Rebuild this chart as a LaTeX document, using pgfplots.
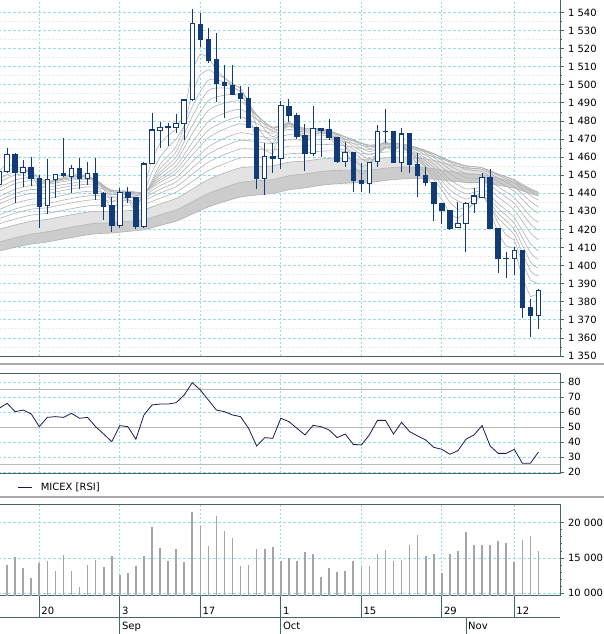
\documentclass[border=0pt]{standalone}
\usepackage{pgfplots}
\pgfplotsset{compat=1.18}
\usepackage{pgfplotstable}
\usepgfplotslibrary{fillbetween}
\usepackage{fontspec}
\setmainfont{DejaVu Sans}

\definecolor{candle}{RGB}{18,60,120}
\definecolor{axiscol}{RGB}{70,100,105}
\definecolor{gridcyan}{RGB}{150,220,232}
\definecolor{rsicol}{RGB}{25,25,85}
\definecolor{volcol}{RGB}{165,165,165}
\definecolor{ribbon}{RGB}{178,178,178}
\definecolor{sepcol}{RGB}{170,170,170}

% candles: up (white) and down (dark)
\pgfplotstableread{
k o h l c
-1 1444.9 1466.3 1443.0 1452.0
0 1452.0 1465.2 1451.0 1461.5
2 1451.6 1458.4 1443.7 1454.2
5 1433.0 1458.8 1428.4 1447.7
6 1447.7 1450.5 1437.2 1450.5
8 1449.4 1455.5 1440.3 1453.6
10 1448.3 1457.5 1444.6 1451.0
14 1422.3 1442.7 1421.0 1440.5
17 1421.5 1457.3 1421.0 1456.2
18 1456.2 1484.2 1456.0 1475.0
19 1475.0 1479.6 1465.2 1476.5
20 1476.3 1478.7 1466.1 1476.7
21 1476.5 1483.7 1473.5 1478.5
22 1478.7 1492.0 1469.5 1491.6
23 1491.6 1541.7 1491.0 1534.0
32 1448.1 1468.0 1439.0 1460.6
34 1459.1 1491.0 1453.2 1488.3
38 1462.1 1488.3 1460.6 1475.9
42 1457.5 1468.5 1454.7 1462.5
45 1445.3 1457.0 1440.3 1456.9
46 1457.5 1477.8 1454.7 1474.4
49 1457.1 1475.9 1451.9 1472.8
56 1421.2 1435.3 1421.0 1423.4
57 1423.4 1435.3 1407.7 1434.4
58 1434.4 1442.7 1429.3 1438.5
59 1437.7 1451.0 1437.2 1448.8
63 1404.0 1410.5 1394.8 1408.6
66 1372.3 1386.9 1364.7 1386.0
}\updata

\pgfplotstableread{
k o h l c
1 1461.5 1462.0 1434.4 1451.6
3 1454.3 1459.9 1444.2 1448.3
4 1448.3 1450.1 1420.6 1432.6
7 1450.8 1470.8 1449.0 1449.6
9 1453.8 1459.3 1442.2 1448.3
11 1451.0 1459.3 1436.3 1440.0
12 1440.0 1440.9 1425.2 1432.6
13 1433.0 1438.1 1418.8 1422.3
15 1440.5 1443.7 1434.4 1437.8
16 1437.8 1438.0 1420.4 1421.5
24 1533.6 1539.5 1521.1 1525.1
25 1525.1 1531.2 1511.9 1513.7
26 1514.1 1528.5 1490.7 1500.8
27 1501.2 1511.0 1481.4 1499.7
28 1499.7 1511.0 1494.4 1494.9
29 1495.3 1499.3 1480.9 1492.3
30 1492.5 1499.0 1476.0 1476.5
31 1476.5 1476.8 1442.2 1448.1
33 1460.6 1468.0 1451.4 1459.3
35 1487.9 1492.3 1479.4 1483.1
36 1483.1 1484.6 1470.2 1471.3
37 1471.7 1478.3 1452.5 1462.1
39 1476.1 1476.3 1460.2 1475.0
40 1475.0 1480.9 1469.5 1470.9
41 1470.9 1471.2 1457.0 1457.5
43 1462.5 1463.0 1440.9 1447.0
44 1447.2 1456.6 1440.9 1445.3
47 1474.4 1486.4 1468.0 1474.0
48 1474.4 1474.5 1456.5 1457.1
50 1472.8 1473.5 1451.4 1456.0
51 1456.0 1462.4 1437.7 1449.7
52 1449.7 1454.3 1444.2 1446.0
53 1446.0 1446.2 1424.8 1434.4
54 1434.4 1434.6 1422.8 1430.4
55 1430.4 1430.6 1419.7 1420.6
60 1448.8 1453.2 1420.0 1420.6
61 1420.6 1420.8 1395.7 1404.0
62 1404.2 1407.7 1392.9 1403.8
64 1408.6 1408.8 1370.8 1376.9
65 1376.9 1381.3 1360.3 1372.3
}\downdata

% fast ribbon lines
\pgfplotstableread{
k f1 f2
-1 1452.0 1450.0
0 1456.8 1453.8
1 1454.2 1453.1
2 1454.2 1453.5
3 1451.3 1451.8
4 1442.0 1445.4
5 1444.9 1446.2
6 1447.7 1447.6
7 1448.7 1448.3
8 1451.2 1450.1
9 1449.8 1449.5
10 1450.4 1450.0
11 1445.2 1446.7
12 1438.9 1442.0
13 1430.6 1435.4
14 1435.6 1437.1
15 1436.7 1437.3
16 1429.1 1432.0
17 1442.7 1440.1
18 1458.9 1451.7
19 1467.7 1460.0
20 1472.1 1465.5
21 1475.3 1469.8
22 1483.5 1477.1
23 1508.8 1496.1
24 1517.0 1505.8
25 1515.4 1508.4
26 1508.1 1505.9
27 1503.9 1503.8
28 1499.4 1500.8
29 1495.9 1498.0
30 1486.2 1490.8
31 1467.2 1476.6
32 1463.9 1471.3
33 1461.6 1467.3
34 1475.0 1474.3
35 1479.1 1477.2
36 1475.2 1475.2
37 1468.7 1470.8
38 1472.3 1472.5
39 1473.7 1473.3
40 1472.3 1472.5
41 1464.9 1467.5
42 1463.7 1465.8
43 1455.4 1459.5
44 1450.4 1454.8
45 1453.7 1455.5
46 1464.1 1461.8
47 1469.1 1465.9
48 1463.1 1463.0
49 1468.0 1466.3
50 1462.0 1462.9
51 1455.9 1458.5
52 1451.0 1454.3
53 1442.7 1447.7
54 1436.6 1441.9
55 1428.6 1434.8
56 1426.0 1431.0
57 1430.2 1432.1
58 1434.4 1434.2
59 1441.6 1439.1
60 1431.1 1432.9
61 1417.6 1423.3
62 1410.7 1416.8
63 1409.7 1414.1
64 1393.3 1401.7
65 1382.8 1391.9
66 1384.4 1389.9
}\fastdata

% slower ribbon lines
\pgfplotstableread{
k s1 s2 s3 s4 s5 s6 s7 s8 s9 s10 s11 s12 s13 s14
-1 1448.0 1446.0 1443.0 1441.0 1438.0 1436.0 1434.0 1431.0 1428.0 1426.0 1423.0 1420.0 1413.0 1408.0
1 1452.0 1450.1 1447.4 1445.3 1442.2 1439.9 1437.7 1434.5 1431.3 1429.0 1425.8 1422.5 1415.4 1410.1
3 1451.6 1450.6 1448.7 1447.0 1444.2 1442.1 1439.9 1436.7 1433.6 1431.2 1427.9 1424.5 1417.4 1411.9
5 1446.3 1446.5 1445.9 1445.1 1443.3 1441.7 1439.9 1437.2 1434.4 1432.0 1428.9 1425.6 1418.7 1413.1
7 1448.0 1447.9 1447.3 1446.5 1444.8 1443.3 1441.6 1438.9 1436.2 1433.8 1430.6 1427.3 1420.4 1414.7
9 1449.4 1449.1 1448.5 1447.7 1446.2 1444.7 1443.1 1440.6 1437.9 1435.5 1432.3 1428.9 1422.1 1416.3
11 1447.6 1447.7 1447.5 1447.1 1446.0 1444.9 1443.5 1441.2 1438.8 1436.5 1433.4 1430.0 1423.4 1417.6
13 1438.2 1439.8 1440.9 1441.6 1441.8 1441.6 1440.9 1439.4 1437.5 1435.6 1432.9 1429.8 1423.6 1418.0
15 1438.6 1439.5 1440.3 1440.9 1441.2 1441.1 1440.6 1439.3 1437.7 1435.9 1433.4 1430.4 1424.5 1418.9
17 1438.7 1439.3 1439.8 1440.3 1440.7 1440.7 1440.3 1439.3 1437.8 1436.2 1433.9 1431.0 1425.3 1419.8
19 1456.0 1453.6 1451.6 1450.2 1448.6 1447.4 1446.1 1444.2 1442.2 1440.1 1437.3 1434.1 1428.1 1422.2
21 1466.0 1463.0 1460.1 1457.8 1455.1 1453.1 1451.2 1448.7 1446.3 1443.7 1440.6 1437.1 1430.8 1424.6
23 1487.9 1482.5 1477.4 1473.0 1468.1 1464.4 1461.2 1457.4 1454.0 1450.5 1446.5 1442.3 1435.3 1428.5
25 1502.6 1496.9 1491.2 1485.9 1479.7 1474.9 1470.7 1465.7 1461.6 1457.2 1452.5 1447.6 1439.9 1432.4
27 1501.5 1498.2 1494.2 1489.9 1484.3 1479.7 1475.5 1470.4 1466.1 1461.4 1456.4 1451.2 1443.2 1435.4
29 1497.8 1496.4 1494.0 1490.9 1486.4 1482.3 1478.5 1473.5 1469.3 1464.5 1459.5 1454.1 1446.0 1437.9
31 1481.2 1483.1 1483.6 1483.0 1481.0 1478.5 1475.8 1472.0 1468.5 1464.3 1459.7 1454.7 1446.9 1439.0
33 1471.3 1474.0 1475.9 1476.6 1476.2 1475.0 1473.2 1470.4 1467.5 1463.9 1459.7 1455.1 1447.6 1439.9
35 1478.0 1478.6 1479.1 1479.1 1478.4 1477.0 1475.3 1472.4 1469.6 1466.0 1461.8 1457.2 1449.7 1441.9
37 1472.7 1473.9 1475.0 1475.7 1475.8 1475.0 1473.9 1471.7 1469.3 1466.1 1462.2 1457.8 1450.7 1443.0
39 1474.0 1474.5 1475.2 1475.6 1475.7 1475.1 1474.1 1472.2 1470.0 1467.0 1463.3 1459.0 1452.0 1444.4
41 1469.4 1470.5 1471.6 1472.4 1473.1 1473.0 1472.5 1471.1 1469.3 1466.7 1463.4 1459.4 1452.7 1445.3
43 1462.6 1464.3 1466.1 1467.5 1469.0 1469.5 1469.6 1468.9 1467.6 1465.6 1462.7 1459.1 1452.8 1445.7
45 1457.2 1459.1 1461.2 1463.0 1464.9 1466.0 1466.6 1466.5 1465.7 1464.2 1461.7 1458.5 1452.7 1445.9
47 1465.1 1465.0 1465.5 1466.1 1467.0 1467.6 1467.8 1467.5 1466.7 1465.2 1462.8 1459.6 1453.9 1447.1
49 1465.0 1465.0 1465.3 1465.8 1466.6 1467.1 1467.3 1467.2 1466.5 1465.2 1462.9 1460.0 1454.5 1447.9
51 1459.4 1460.2 1461.2 1462.2 1463.5 1464.4 1465.0 1465.2 1464.9 1464.0 1462.1 1459.5 1454.4 1448.1
53 1450.4 1452.4 1454.3 1456.1 1458.2 1459.8 1460.9 1461.9 1462.0 1461.7 1460.3 1458.2 1453.6 1447.8
55 1438.8 1441.9 1444.9 1447.6 1450.8 1453.3 1455.2 1457.0 1457.8 1458.1 1457.4 1455.9 1452.1 1446.8
57 1434.1 1436.8 1439.7 1442.4 1445.9 1448.7 1450.9 1453.2 1454.4 1455.3 1455.1 1454.0 1450.8 1446.0
59 1438.6 1439.5 1441.0 1442.8 1445.4 1447.7 1449.7 1451.9 1453.2 1454.1 1454.1 1453.3 1450.4 1445.9
61 1426.3 1428.8 1431.6 1434.3 1437.9 1441.0 1443.6 1446.5 1448.4 1450.0 1450.7 1450.5 1448.3 1444.4
63 1416.9 1420.0 1423.3 1426.5 1430.8 1434.4 1437.5 1441.1 1443.5 1445.8 1447.0 1447.5 1446.0 1442.8
65 1397.2 1402.2 1407.3 1412.1 1418.1 1423.0 1427.3 1432.1 1435.5 1438.8 1441.1 1442.5 1442.1 1439.8
66 1394.2 1398.6 1403.5 1408.2 1414.3 1419.3 1423.8 1428.9 1432.5 1436.2 1438.8 1440.5 1440.5 1438.6
}\slowdata

\pgfplotstableread{
k v
-1 62.4
0 65.8
1 60.2
2 61.3
3 58.7
4 50.2
5 56.4
6 56.9
7 56.4
8 59.1
9 55.8
10 56.4
11 50.2
12 45.3
13 40.2
14 50.9
15 50.2
16 41.8
17 58.0
18 64.7
19 65.3
20 65.3
21 66.2
22 71.3
23 79.6
24 74.7
25 68.0
26 61.3
27 60.2
28 58.0
29 56.9
30 49.1
31 37.3
32 42.9
33 42.4
34 55.8
35 53.6
36 49.1
37 44.7
38 51.1
39 50.2
40 48.0
41 42.9
42 45.3
43 38.4
44 38.0
45 44.7
46 54.4
47 54.4
48 45.3
49 53.1
50 46.9
51 44.0
52 41.3
53 36.4
54 35.1
55 31.8
56 34.2
57 41.8
58 44.7
59 50.9
60 37.3
61 32.4
62 32.4
63 35.1
64 25.8
65 25.8
66 33.3
}\rsidata

\pgfplotstableread{
k v
0 14010
1 15100
2 13540
3 12210
4 14340
5 14570
6 13160
7 15380
8 13160
9 10940
10 13960
11 14720
12 13680
13 15280
14 12630
15 12830
16 13870
17 15280
18 19350
19 16370
20 14570
21 16230
22 14470
23 21470
24 19530
25 16700
26 20990
27 18860
28 17870
29 13870
30 14010
31 16230
32 16230
33 16510
34 14570
35 14960
36 14570
37 15890
38 15570
39 12270
40 13540
41 13060
42 13200
43 14570
44 13770
45 13870
46 15570
47 16130
48 14570
49 14720
50 16840
51 18260
52 15280
53 15570
54 12830
55 15570
56 15990
57 18720
58 16800
59 16840
60 16840
61 17450
62 17170
63 14470
64 17550
65 18110
66 15990
}\voldata

\pgfplotsset{
  /pgf/number format/1000 sep={\ },
  /pgf/number format/assume math mode=true,
  panel/.style={
    scale only axis, width=562pt, xmin=-1.13, xmax=68.68,
    axis line style={draw=axiscol, line width=0.9pt},
    xtick={4,14,24,34,44,54,63}, xticklabels={},
    major x tick style={draw=none},
    xmajorgrids, major x grid style={gridcyan, line width=0.8pt, dash pattern=on 2pt off 2pt},
    ymajorgrids, major y grid style={gridcyan, line width=0.8pt, dash pattern=on 3pt off 2pt},
    ytick pos=right, yticklabel pos=right, tick align=outside,
    major tick length=3.5pt, minor tick length=2pt,
    every tick/.style={axiscol, line width=0.8pt},
    tick label style={font=\fontsize{10}{12}\selectfont, text=black},
    yticklabel style={anchor=west, xshift=1pt},
    anchor=south west,
  },
  candlebar/.style={only marks, mark=*, mark size=0pt, mark options={draw=none, fill=none},
    error bars/.cd, y dir=both, y explicit, error mark=none},
}
\tikzset{
  datelab/.style={anchor=base west, inner sep=2pt, font=\fontsize{10}{12}\selectfont},
  dateline/.style={axiscol, line width=0.8pt},
}

\begin{document}
\begin{tikzpicture}

% ---------------- main price panel ----------------
\begin{axis}[panel, set layers, at={(-2pt,278pt)}, height=358pt,
  ymin=1350, ymax=1548.0, ytick={1350,1360,...,1540}, minor y tick num=1,
  yminorgrids, minor y grid style={gray!22, dotted, line width=0.8pt}]
  \addplot[draw=none, smooth, tension=0.4, name path=A] table[x=k, y=s14] \slowdata;
  \addplot[draw=none, smooth, tension=0.4, name path=B] table[x=k, y=s13] \slowdata;
  \addplot[draw=none, smooth, tension=0.4, name path=C] table[x=k, y=s12] \slowdata;
  \addplot[fill=gray!40, draw=none] fill between[of=A and B];
  \addplot[fill=gray!22, draw=none] fill between[of=B and C];
  \pgfplotsinvokeforeach{s1,s2,s3,s4,s5,s6,s7,s8,s9,s10,s11,s12,s13,s14}{
    \addplot[ribbon, line width=0.6pt, smooth, tension=0.4] table[x=k, y=#1] \slowdata;
  }
  \addplot[ribbon, line width=0.6pt] table[x=k, y=f1] \fastdata;
  \addplot[ribbon, line width=0.6pt] table[x=k, y=f2] \fastdata;
  % wicks
  \addplot[candlebar, error bar style={candle, line width=1pt}]
    table[x=k, y expr={(\thisrow{h}+\thisrow{l})/2}, y error expr={(\thisrow{h}-\thisrow{l})/2}] \updata;
  \addplot[candlebar, error bar style={candle, line width=1pt}]
    table[x=k, y expr={(\thisrow{h}+\thisrow{l})/2}, y error expr={(\thisrow{h}-\thisrow{l})/2}] \downdata;
  % bodies
  \addplot[candlebar, error bar style={candle, line width=5.5pt}]
    table[x=k, y expr={(\thisrow{o}+\thisrow{c})/2}, y error expr={abs(\thisrow{c}-\thisrow{o})/2+0.28}] \downdata;
  \addplot[candlebar, error bar style={candle, line width=5.5pt}]
    table[x=k, y expr={(\thisrow{o}+\thisrow{c})/2}, y error expr={abs(\thisrow{c}-\thisrow{o})/2+0.28}] \updata;
  \addplot[candlebar, error bar style={white, line width=3.5pt}]
    table[x=k, y expr={(\thisrow{o}+\thisrow{c})/2}, y error expr={max(abs(\thisrow{c}-\thisrow{o})/2-0.3,0)}] \updata;
\end{axis}

% separators
\draw[sepcol, line width=1.6pt] (0,270pt) -- (604pt,270pt);
\draw[sepcol, line width=1.6pt] (0,137pt) -- (604pt,137pt);

% ---------------- RSI panel ----------------
\begin{axis}[panel, at={(-2pt,160.7pt)}, height=100pt,
  ymin=19.1, ymax=85.8, ytick={20,30,...,80},
  legend style={at={(axis description cs:0.0356,-0.137)}, anchor=west, draw=none, fill=none,
    inner sep=0pt, outer sep=0pt, font=\fontsize{10}{12}\selectfont,
    /tikz/every odd column/.append style={column sep=6pt}},
  legend cell align=left,
  legend image code/.code={\draw[#1] (0pt,0pt) -- (14pt,0pt);}]
  \addplot[gray!55, line width=0.9pt, forget plot] coordinates {(-2,75) (70,75)};
  \addplot[gray!55, line width=0.9pt, forget plot] coordinates {(-2,50) (70,50)};
  \addplot[gray!55, line width=0.9pt, forget plot] coordinates {(-2,25) (70,25)};
  \addplot[rsicol, line width=0.8pt] table[x=k, y=v] \rsidata;
  \addlegendentry{MICEX [RSI]}
\end{axis}

% ---------------- volume panel ----------------
\begin{axis}[panel, at={(-2pt,38.5pt)}, height=91.5pt,
  ymin=9688, ymax=22648, ytick={10000,15000,20000}, minor y tick num=4,
  scaled y ticks=false]
  \addplot[ycomb, volcol, line width=1.6pt] table[x=k, y=v] \voldata;
\end{axis}

% ---------------- date strip ----------------
\begin{axis}[scale only axis, width=562pt, height=38pt, at={(-2pt,0pt)}, anchor=south west,
  xmin=-1.13, xmax=68.68, ymin=0, ymax=38, hide axis, clip=false]
  \addplot[draw=none] coordinates {(0,0)};
  \draw[dateline] (axis cs:-1.13,17) -- (axis cs:68.68,17);
  \draw[dateline] (axis cs:4,17) -- (axis cs:4,38);
  \draw[dateline] (axis cs:14,0) -- (axis cs:14,38);
  \draw[dateline] (axis cs:24,17) -- (axis cs:24,38);
  \draw[dateline] (axis cs:34,0) -- (axis cs:34,38);
  \draw[dateline] (axis cs:44,17) -- (axis cs:44,38);
  \draw[dateline] (axis cs:54,17) -- (axis cs:54,38);
  \draw[dateline] (axis cs:63,17) -- (axis cs:63,38);
  \draw[dateline] (axis cs:57,0) -- (axis cs:57,17);
  \node[datelab] at (axis cs:4,19.5) {20};
  \node[datelab] at (axis cs:14,19.5) {3};
  \node[datelab] at (axis cs:24,19.5) {17};
  \node[datelab] at (axis cs:34,19.5) {1};
  \node[datelab] at (axis cs:44,19.5) {15};
  \node[datelab] at (axis cs:54,19.5) {29};
  \node[datelab] at (axis cs:63,19.5) {12};
  \node[datelab] at (axis cs:14,4.5) {Sep};
  \node[datelab] at (axis cs:34,4.5) {Oct};
  \node[datelab] at (axis cs:57,4.5) {Nov};
\end{axis}
\pgfresetboundingbox
\path[use as bounding box] (0,0) rectangle (604pt,634pt);
\end{tikzpicture}
\end{document}
